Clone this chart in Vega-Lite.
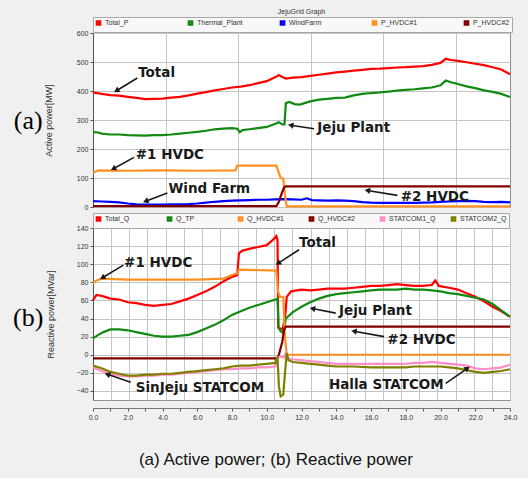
{
  "$schema": "https://vega.github.io/schema/vega-lite/v6.json",
  "background": "#f0f0f0",
  "padding": {"left": 12, "top": 7, "right": 18, "bottom": 10},
  "title": {"text": "(a) Active power; (b) Reactive power", "orient": "bottom", "anchor": "middle", "font": "Liberation Sans", "fontSize": 17, "fontWeight": "normal", "color": "#111", "offset": 31, "dx": 11},
  "datasets": {
    "seriesA": [
      {"s": "Total_P", "t": [0,0.5,1,1.5,2,2.5,3,3.5,4,4.5,5,5.5,6,6.5,7,7.5,8,8.5,9,9.5,10,10.5,10.7,10.9,11.1,11.5,12,12.5,13,13.5,14,14.5,15,15.5,16,16.5,17,17.5,18,18.5,19,19.5,20,20.3,20.6,21,21.5,22,22.5,23,23.5,24],
       "v": [395,390,386,384,380,376,372,373,374,377,380,385,391,396,402,407,412,415,420,427,434,448,455,448,443,446,448,452,456,460,464,467,470,473,476,477,479,481,482,484,486,490,497,511,507,504,499,494,489,482,474,458]},
      {"s": "Thermal_Plant", "t": [0,0.3,0.5,1,1.5,2,2.5,3,3.5,4,4.5,5,5.5,6,6.5,7,7.5,8,8.3,8.45,8.6,9,9.5,10,10.5,10.7,10.9,11.02,11.1,11.3,11.6,11.9,12.5,13,13.5,14,14.5,15,15.5,16,16.5,17,17.5,18,18.5,19,19.5,20,20.3,20.6,21,21.5,22,22.5,23,23.5,24],
       "v": [258,257,253,250,250,248,247,246,248,248,250,253,256,259,263,268,270,272,270,258,265,268,272,276,287,292,285,285,358,362,355,353,364,370,373,376,377,385,390,393,395,398,401,404,406,409,412,420,436,430,424,416,410,402,397,390,379]},
      {"s": "WindFarm", "t": [0,0.5,1,1.5,2,2.5,3,3.5,4,4.5,5,5.5,6,6.5,7,7.5,8,8.5,9,9.5,10,10.5,11,11.5,12,12.3,12.6,13,13.5,14,14.5,15,15.5,16,16.5,17,17.5,18,18.5,19,19.5,20,20.5,21,21.5,22,22.5,23,23.5,24],
       "v": [20,19,18,16,12,9,8,8,8,9,9,10,12,15,18,20,22,23,24,25,25,26,27,26,25,30,24,23,22,23,22,20,17,15,14,14,14,14,14,15,16,18,19,20,21,20,18,17,18,16]},
      {"s": "P_HVDC#1", "t": [0,0.15,0.3,2,4,6,8.2,8.3,10.55,10.7,10.8,10.95,11.05,11.15,24],
       "v": [117,122,126,125,126,125,126,143,143,118,100,98,40,2,2]},
      {"s": "P_HVDC#2", "t": [0,10.55,10.7,10.85,11.0,11.1,24],
       "v": [3,3,18,45,68,71,71]}
    ],
    "seriesB": [
      {"s": "Total_Q", "t": [0,0.2,0.5,1,1.5,2,2.5,3,3.5,4,4.5,5,5.5,6,6.5,7,7.5,8,8.3,8.4,8.6,9,9.5,10,10.3,10.55,10.62,10.66,10.9,11.05,11.15,11.4,12,12.5,13,13.5,14,14.5,15,15.5,16,16.5,17,17.5,18,18.5,19,19.5,19.7,19.9,20.5,21,21.5,22,22.5,23,23.5,24],
       "v": [60,66,65,62,61,58,57,55,54,55,56,59,62,66,70,75,81,86,88,112,115,117,119,121,126,131,127,30,28,40,64,70,72,71,72,73,73,73,74,75,76,76,77,78,77,76,76,77,82,76,74,72,68,64,59,53,48,42]},
      {"s": "Q_TP", "t": [0,0.3,0.6,1,1.5,2,2.5,3,3.5,4,4.5,5,5.5,6,6.5,7,7.5,8,8.5,9,9.5,10,10.5,10.62,10.68,10.8,10.95,11.1,11.5,12,12.5,13,13.5,14,14.5,15,15.5,16,16.5,17,17.5,18,18.5,19,19.5,20,20.5,21,21.5,22,22.5,23,23.5,24],
       "v": [18,22,25,28,28,27,25,23,21,20,20,21,22,25,29,33,38,44,48,52,55,58,61,62,30,26,24,40,47,53,58,62,65,67,68,69,70,71,72,72,72,73,72,72,71,70,68,67,65,63,61,56,49,42]},
      {"s": "Q_HVDC#1", "t": [0,0.2,0.5,2,4,6,7.5,8,8.3,8.4,10.55,10.65,10.75,10.95,11.05,11.15,24],
       "v": [79,82,84,83,83,83,84,88,90,94,93,70,64,64,20,0,0]},
      {"s": "Q_HVDC#2", "t": [0,10.6,10.7,10.9,11.0,11.1,24],
       "v": [-4,-4,0,15,28,31,31]},
      {"s": "STATCOM1_Q", "t": [0,0.5,1,1.5,2,2.5,3,3.5,4,4.5,5,5.5,6,6.5,7,7.5,8,8.5,9,9.5,10,10.5,10.62,10.75,11,11.1,11.2,11.5,12,12.5,13,13.5,14,15,16,17,18,18.5,19,19.5,20,20.5,21,21.5,22,22.5,23,23.5,24],
       "v": [-14,-18,-21,-23,-24,-24,-23,-23,-22,-22,-21,-20,-19,-18,-17,-16,-16,-15,-15,-14,-14,-13,-3,-2,-3,2,-4,-5,-6,-7,-8,-9,-10,-10,-10,-10,-10,-9,-9,-8,-9,-10,-11,-12,-15,-16,-15,-14,-11]},
      {"s": "STATCOM2_Q", "t": [0,0.5,1,1.5,2,2.5,3,3.5,4,4.5,5,5.5,6,6.5,7,7.5,8,8.5,9,9.5,10,10.5,10.62,10.7,10.8,10.95,11.05,11.15,11.25,11.5,12,12.5,13,13.5,14,15,16,17,18,18.5,19,19.5,20,20.5,21,21.5,22,22.5,23,23.5,24],
       "v": [-12,-15,-19,-21,-23,-23,-22,-22,-21,-21,-20,-19,-18,-17,-16,-15,-13,-12,-12,-11,-10,-9,-2,-35,-46,-44,-20,2,-6,-8,-9,-10,-11,-12,-13,-13,-14,-14,-14,-13,-13,-13,-13,-14,-15,-17,-19,-20,-19,-18,-16]}
    ],
    "notesA": [
      {"label": "Total", "tx": 2.6, "ty": 461, "x1": 1.35, "y1": 401, "x2": 2.55, "y2": 445},
      {"label": "Jeju Plant", "tx": 12.91, "ty": 271, "x1": 11.38, "y1": 282, "x2": 12.72, "y2": 270},
      {"label": "#1 HVDC", "tx": 2.46, "ty": 181, "x1": 1.17, "y1": 132, "x2": 2.36, "y2": 171},
      {"label": "Wind Farm", "tx": 4.34, "ty": 61, "x1": 3.03, "y1": 20, "x2": 4.28, "y2": 48},
      {"label": "#2 HVDC", "tx": 17.71, "ty": 33, "x1": 15.79, "y1": 57, "x2": 17.52, "y2": 40}
    ],
    "notesB": [
      {"label": "#1 HVDC", "tx": 1.79, "ty": 101, "x1": 0.54, "y1": 85, "x2": 1.75, "y2": 99},
      {"label": "Total", "tx": 11.86, "ty": 123, "x1": 10.65, "y1": 101, "x2": 11.86, "y2": 116},
      {"label": "Jeju Plant", "tx": 14.16, "ty": 48, "x1": 12.63, "y1": 51, "x2": 13.97, "y2": 46},
      {"label": "#2 HVDC", "tx": 16.94, "ty": 16, "x1": 15.02, "y1": 26, "x2": 16.75, "y2": 20},
      {"label": "SinJeju STATCOM", "tx": 2.46, "ty": -37, "x1": 0.83, "y1": -21.6, "x2": 2.17, "y2": -30.5},
      {"label": "Halla STATCOM", "tx": 13.58, "ty": -33, "x1": 21.55, "y1": -15, "x2": 20.3, "y2": -31.6}
    ],
    "panelA": [{"label": "(a)", "t": -3.73, "v": 295}],
    "panelB": [{"label": "(b)", "t": -3.73, "v": 41}]
  },
  "vconcat": [
    {
      "width": 417,
      "height": 174,
      "title": {"text": "JejuGrid Graph", "font": "Liberation Sans", "fontSize": 7, "fontWeight": "normal", "color": "#333", "offset": 2},
      "layer": [
        {
          "data": {"name": "seriesA"},
          "transform": [{"flatten": ["t", "v"]}],
          "mark": {"type": "line", "strokeWidth": 2.2},
          "encoding": {
            "x": {"field": "t", "type": "quantitative", "scale": {"domain": [0, 24], "nice": false},
                  "axis": {"values": [0,1.0435,2.087,3.1304,4.1739,5.2174,6.2609,7.3043,8.3478,9.3913,10.4348,11.4783,12.5217,13.5652,14.6087,15.6522,16.6957,17.7391,18.7826,19.8261,20.8696,21.913,22.9565,24], "labels": false, "ticks": false, "domain": false, "title": null, "grid": true}},
            "y": {"field": "v", "type": "quantitative", "scale": {"domain": [0, 600], "nice": false},
                  "axis": {"values": [0,100,200,300,400,500,600], "title": "Active power[MW]", "grid": true, "titlePadding": 23, "labelOverlap": false}},
            "color": {"field": "s", "type": "nominal", "sort": null,
                      "scale": {"domain": ["Total_P","Thermal_Plant","WindFarm","P_HVDC#1","P_HVDC#2"], "range": ["#ff0000","#108a10","#0000ff","#ff9020","#800000"]},
                      "legend": {"orient": "top", "direction": "horizontal", "columns": 5, "gridAlign": "all", "title": null, "symbolType": "square", "symbolSize": 10, "symbolStrokeWidth": 2.5, "labelFont": "Liberation Sans", "labelFontSize": 7, "labelColor": "#333", "columnPadding": 32, "padding": 2, "strokeColor": "#a8a8a8", "fillColor": "#f8f8f8", "offset": 1, "labelOffset": 3}}
          }
        },
        {
          "data": {"name": "notesA"},
          "mark": {"type": "rule", "color": "#1a1a1a", "strokeWidth": 1.6},
          "encoding": {
            "x": {"field": "x2", "type": "quantitative"},
            "y": {"field": "y2", "type": "quantitative",
                  "axis": {"values": [0,100,200,300,400,500,600], "title": "Active power[MW]", "grid": true, "titlePadding": 23, "labelOverlap": false}},
            "x2": {"field": "x1"},
            "y2": {"field": "y1"}
          }
        },
        {
          "data": {"name": "notesA"},
          "transform": [{"calculate": "atan2(-(datum.y1 - datum.y2) * 0.29, (datum.x1 - datum.x2) * 17.375) * 180 / PI", "as": "ang"}],
          "mark": {"type": "point", "shape": "triangle-right", "filled": true, "color": "#1a1a1a", "size": 40, "opacity": 1},
          "encoding": {
            "x": {"field": "x1", "type": "quantitative"},
            "y": {"field": "y1", "type": "quantitative",
                  "axis": {"values": [0,100,200,300,400,500,600], "title": "Active power[MW]", "grid": true, "titlePadding": 23, "labelOverlap": false}},
            "angle": {"field": "ang", "type": "quantitative", "scale": null}
          }
        },
        {
          "data": {"name": "notesA"},
          "mark": {"type": "text", "align": "left", "baseline": "middle", "font": "DejaVu Sans", "fontWeight": "bold", "fontSize": 13.5, "color": "#1a1a1a"},
          "encoding": {
            "x": {"field": "tx", "type": "quantitative"},
            "y": {"field": "ty", "type": "quantitative",
                  "axis": {"values": [0,100,200,300,400,500,600], "title": "Active power[MW]", "grid": true, "titlePadding": 23, "labelOverlap": false}},
            "text": {"field": "label"}
          }
        },
        {
          "data": {"name": "panelA"},
          "mark": {"type": "text", "align": "center", "baseline": "middle", "font": "Liberation Serif", "fontSize": 26, "color": "#000", "clip": false},
          "encoding": {
            "x": {"field": "t", "type": "quantitative"},
            "y": {"field": "v", "type": "quantitative",
                  "axis": {"values": [0,100,200,300,400,500,600], "title": "Active power[MW]", "grid": true, "titlePadding": 23, "labelOverlap": false}},
            "text": {"field": "label"}
          }
        }
      ]
    },
    {
      "width": 417,
      "height": 172,
      "resolve": {"axis": {"x": "independent"}},
      "layer": [
        {
          "data": {"name": "seriesB"},
          "transform": [{"flatten": ["t", "v"]}],
          "mark": {"type": "line", "strokeWidth": 2.2},
          "encoding": {
            "x": {"field": "t", "type": "quantitative", "scale": {"domain": [0, 24], "nice": false},
                  "axis": {"orient": "bottom", "values": [0,1.0435,2.087,3.1304,4.1739,5.2174,6.2609,7.3043,8.3478,9.3913,10.4348,11.4783,12.5217,13.5652,14.6087,15.6522,16.6957,17.7391,18.7826,19.8261,20.8696,21.913,22.9565,24], "labels": false, "ticks": false, "domain": false, "title": null, "grid": true}},
            "y": {"field": "v", "type": "quantitative", "scale": {"domain": [-50, 140], "nice": false},
                  "axis": {"values": [-40,-20,0,20,40,60,80,100,120,140], "title": "Reactive power[MVar]", "grid": true, "titlePadding": 21, "labelOverlap": false}},
            "color": {"field": "s", "type": "nominal", "sort": null,
                      "scale": {"domain": ["Total_Q","Q_TP","Q_HVDC#1","Q_HVDC#2","STATCOM1_Q","STATCOM2_Q"], "range": ["#ff0000","#108a10","#ff9020","#800000","#ff8cc6","#808000"]},
                      "legend": {"orient": "top", "direction": "horizontal", "columns": 6, "gridAlign": "all", "title": null, "symbolType": "square", "symbolSize": 10, "symbolStrokeWidth": 2.5, "labelFont": "Liberation Sans", "labelFontSize": 7, "labelColor": "#333", "columnPadding": 10, "padding": 2, "strokeColor": "#a8a8a8", "fillColor": "#f8f8f8", "offset": 0, "labelOffset": 3}}
          }
        },
        {
          "data": {"name": "notesB"},
          "mark": {"type": "rule", "color": "#1a1a1a", "strokeWidth": 1.6},
          "encoding": {
            "x": {"field": "x2", "type": "quantitative", "axis": null},
            "y": {"field": "y2", "type": "quantitative",
                  "axis": {"values": [-40,-20,0,20,40,60,80,100,120,140], "title": "Reactive power[MVar]", "grid": true, "titlePadding": 21, "labelOverlap": false}},
            "x2": {"field": "x1"},
            "y2": {"field": "y1"}
          }
        },
        {
          "data": {"name": "notesB"},
          "transform": [{"calculate": "atan2(-(datum.y1 - datum.y2) * 0.9033, (datum.x1 - datum.x2) * 17.375) * 180 / PI", "as": "ang"}],
          "mark": {"type": "point", "shape": "triangle-right", "filled": true, "color": "#1a1a1a", "size": 40, "opacity": 1},
          "encoding": {
            "x": {"field": "x1", "type": "quantitative", "axis": null},
            "y": {"field": "y1", "type": "quantitative",
                  "axis": {"values": [-40,-20,0,20,40,60,80,100,120,140], "title": "Reactive power[MVar]", "grid": true, "titlePadding": 21, "labelOverlap": false}},
            "angle": {"field": "ang", "type": "quantitative", "scale": null}
          }
        },
        {
          "data": {"name": "notesB"},
          "mark": {"type": "text", "align": "left", "baseline": "middle", "font": "DejaVu Sans", "fontWeight": "bold", "fontSize": 13.5, "color": "#1a1a1a"},
          "encoding": {
            "x": {"field": "tx", "type": "quantitative",
                  "axis": {"orient": "bottom", "values": [0,1,2,3,4,5,6,7,8,9,10,11,12,13,14,15,16,17,18,19,20,21,22,23,24], "labelExpr": "datum.value % 2 == 0 ? format(datum.value, '.1f') : ''", "grid": false, "title": null, "offset": 8, "tickSize": 3, "labelPadding": 2, "domainColor": "#777", "labelFlush": false, "labelOverlap": false}},
            "y": {"field": "ty", "type": "quantitative",
                  "axis": {"values": [-40,-20,0,20,40,60,80,100,120,140], "title": "Reactive power[MVar]", "grid": true, "titlePadding": 21, "labelOverlap": false}},
            "text": {"field": "label"}
          }
        },
        {
          "data": {"name": "panelB"},
          "mark": {"type": "text", "align": "center", "baseline": "middle", "font": "Liberation Serif", "fontSize": 26, "color": "#000", "clip": false},
          "encoding": {
            "x": {"field": "t", "type": "quantitative", "axis": null},
            "y": {"field": "v", "type": "quantitative",
                  "axis": {"values": [-40,-20,0,20,40,60,80,100,120,140], "title": "Reactive power[MVar]", "grid": true, "titlePadding": 21, "labelOverlap": false}},
            "text": {"field": "label"}
          }
        }
      ]
    }
  ],
  "spacing": 0,
  "resolve": {"scale": {"color": "independent", "y": "independent"}, "legend": {"color": "independent"}},
  "config": {
    "view": {"stroke": "#909090", "fill": "white"},
    "axis": {"labelFont": "Liberation Sans", "labelFontSize": 7, "labelColor": "#333", "titleFont": "Liberation Sans", "titleFontSize": 9, "titleFontWeight": "normal", "titleColor": "#333", "gridColor": "#c4c4c4", "gridWidth": 1, "domainColor": "#555", "tickColor": "#555", "tickSize": 3}
  }
}
